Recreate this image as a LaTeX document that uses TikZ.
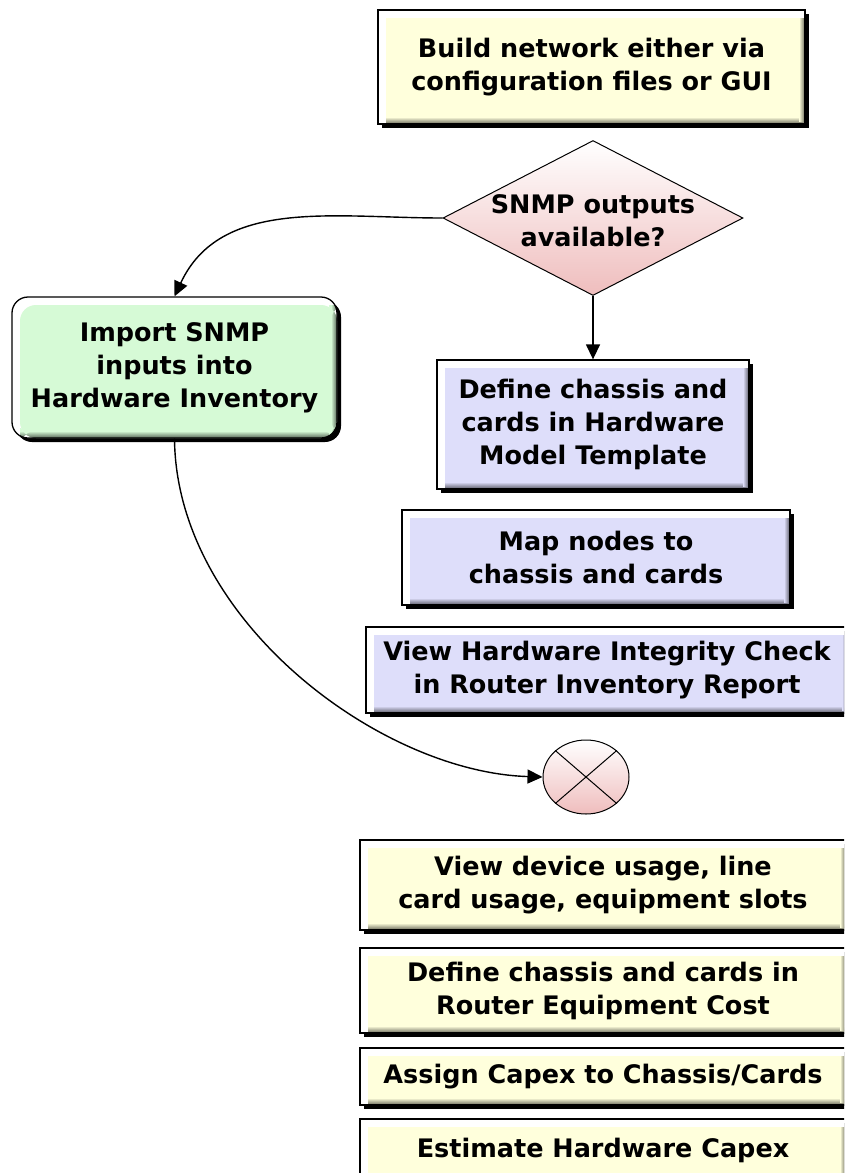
\documentclass[tikz,border=0pt]{standalone}
\usepackage{fontspec}
\setmainfont{DejaVu Sans}
\usetikzlibrary{shapes.geometric,arrows.meta,shadows}
\definecolor{yel}{HTML}{FFFFDC}
\definecolor{blu}{HTML}{DEDEFA}
\definecolor{grn}{HTML}{D6FAD6}
\definecolor{pnk}{HTML}{F8D6D6}
\definecolor{pnkd}{HTML}{EFBDBD}
\tikzset{
  bevel/.style={
    path picture={
      \coordinate (ppsw) at (path picture bounding box.south west);
      \coordinate (ppne) at (path picture bounding box.north east);
      \fill[white] (ppsw) rectangle (ppne);
      \fill[#1] ([xshift=8pt]ppsw) rectangle ([yshift=-8pt]ppne);
      \shade[top color=#1, bottom color=#1!40!black] ([xshift=8pt]ppsw) rectangle ([yshift=7pt]ppsw -| ppne);
      \shade[left color=#1, right color=#1!40!black] ([xshift=-6pt,yshift=-8pt]ppne) rectangle ([yshift=3pt]ppsw -| ppne);
    }},
  boxbase/.style={draw=black, line width=1.3pt, inner sep=0pt, align=center,
    font=\fontsize{25.5}{33}\selectfont\bfseries, text=black,
    drop shadow={shadow xshift=4pt, shadow yshift=-4pt, fill=black, opacity=1}},
  ybox/.style={boxbase, rectangle, bevel=yel},
  bbox/.style={boxbase, rectangle, bevel=blu},
  gbox/.style={boxbase, rectangle, rounded corners=16pt, bevel=grn},
  conn/.style={line width=1.4pt, black, -{Triangle[length=15pt,width=14pt]}},
  lbl/.style={align=center, font=\fontsize{25.5}{33}\selectfont\bfseries, text=black, inner sep=0pt},
  pinkshape/.style={draw=black, line width=1pt, inner sep=0pt,
    top color=white, middle color=pnk, bottom color=pnkd},
}
\begin{document}
\begin{tikzpicture}[x=1pt,y=-1pt]
\useasboundingbox (0,0) rectangle (844,1173);
\fill[white] (0,0) rectangle (844,1173);
\clip (0,0) rectangle (844,1173);

\node[ybox, minimum width=427pt, minimum height=114pt] (build) at (591.5,67)
  {Build network either via\\configuration files or GUI};

\node[diamond, pinkshape, minimum width=300pt, minimum height=155pt] (dia) at (593,218) {};
\node[lbl] (diatext) at (593,221) {SNMP outputs\\available?};

\node[gbox, minimum width=325pt, minimum height=141pt] (imp) at (174.5,367.5)
  {Import SNMP\\inputs into\\Hardware Inventory};

\node[bbox, minimum width=312pt, minimum height=129pt] (def1) at (593,424.5)
  {Define chassis and\\cards in Hardware\\Model Template};

\node[bbox, minimum width=388pt, minimum height=95pt] (map) at (596,557.5)
  {Map nodes to\\chassis and cards};

\node[bbox, minimum width=482pt, minimum height=86pt] (viewhw) at (607,670)
  {View Hardware Integrity Check\\in Router Inventory Report};

\node[ellipse, pinkshape, minimum width=86pt, minimum height=74pt] (circ) at (586,777) {};
\draw[line width=1pt] (circ.north west) -- (circ.south east);
\draw[line width=1pt] (circ.north east) -- (circ.south west);

\node[ybox, minimum width=486pt, minimum height=90pt] (view) at (603,885)
  {View device usage, line\\card usage, equipment slots};
\node[ybox, minimum width=486pt, minimum height=85pt] (defc) at (603,990.5)
  {Define chassis and cards in\\Router Equipment Cost};
\node[ybox, minimum width=486pt, minimum height=57pt] (assign) at (603,1076.5)
  {Assign Capex to Chassis/Cards};
\node[ybox, minimum width=486pt, minimum height=62pt] (est) at (603,1150)
  {Estimate Hardware Capex};

\draw[conn] (dia.south) -- (def1.north);
\draw[conn] (dia.west) to[out=180,in=65] (imp.north);
\draw[conn] (imp.south) .. controls (176,620) and (380,772) .. (circ.west);
\end{tikzpicture}
\end{document}
